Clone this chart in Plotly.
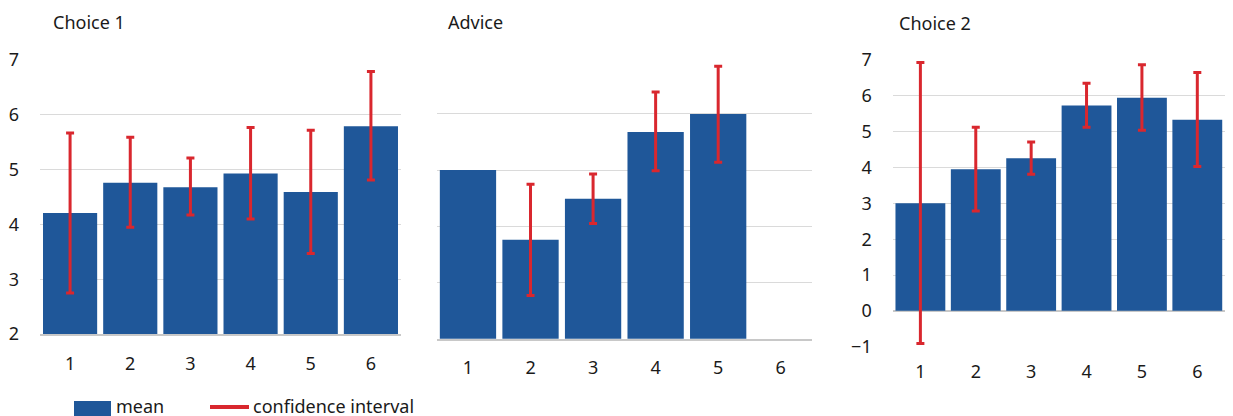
import plotly.graph_objects as go

# Categories shared by all three panels
categories = ["1", "2", "3", "4", "5", "6"]

# Choice 1: mean and confidence-interval bounds
choice1_mean = [4.21, 4.76, 4.68, 4.93, 4.59, 5.79]
choice1_low = [2.75, 3.95, 4.17, 4.10, 3.47, 4.81]
choice1_high = [5.67, 5.59, 5.21, 5.77, 5.72, 6.79]

# Advice: no interval for category 1, no data for category 6
advice_mean = [5.00, 3.76, 4.49, 5.68, 6.00, None]
advice_low = [None, 2.77, 4.05, 4.99, 5.14, None]
advice_high = [None, 4.75, 4.93, 6.39, 6.85, None]

# Choice 2
choice2_mean = [3.00, 3.95, 4.26, 5.73, 5.95, 5.33]
choice2_low = [-0.91, 2.79, 3.81, 5.12, 5.04, 4.03]
choice2_high = [6.93, 5.12, 4.71, 6.35, 6.87, 6.65]

panel_titles = ["Choice 1", "Advice", "Choice 2"]
legend_labels = ["mean", "confidence interval"]

BLUE = "#1f5799"
RED = "#d9272e"
GRID = "#dadada"
TEXT = "#1a1a1a"
FONT = "Noto Sans"
W, H = 1233, 416


def px_x(v):
    return v / W


def px_y(v):
    return 1 - v / H


fig = go.Figure()

panels = [
    (choice1_mean, choice1_low, choice1_high, "x", "y"),
    (advice_mean, advice_low, advice_high, "x2", "y2"),
    (choice2_mean, choice2_low, choice2_high, "x3", "y3"),
]

for mean, low, high, xa, ya in panels:
    fig.add_trace(go.Bar(
        x=categories, y=mean, xaxis=xa, yaxis=ya,
        marker=dict(color=BLUE, line=dict(width=0)),
        showlegend=False, hoverinfo="skip",
    ))
    # Confidence intervals only where both bounds exist
    cx, cy, up, down = [], [], [], []
    for c, m, lo, hi in zip(categories, mean, low, high):
        if m is None or lo is None or hi is None:
            continue
        cx.append(c)
        cy.append(m)
        up.append(hi - m)
        down.append(m - lo)
    fig.add_trace(go.Scatter(
        x=cx, y=cy, xaxis=xa, yaxis=ya, mode="markers",
        marker=dict(size=1, opacity=0),
        error_y=dict(type="data", symmetric=False, array=up, arrayminus=down,
                     color=RED, thickness=3, width=4),
        showlegend=False, hoverinfo="skip",
    ))

axis_common = dict(
    showgrid=False, zeroline=False, ticks="", showline=False, automargin=False,
    tickfont=dict(family=FONT, size=18, color=TEXT),
    type="category", range=[-0.5, 5.5],
)
yaxis_common = dict(
    showgrid=True, gridcolor=GRID, gridwidth=1.3, ticks="", automargin=False,
    tickfont=dict(family=FONT, size=18, color=TEXT), dtick=1,
)

fig.update_layout(
    width=W, height=H,
    margin=dict(l=0, r=0, t=0, b=0, autoexpand=False),
    paper_bgcolor="white", plot_bgcolor="white",
    bargap=0.1,
    xaxis=dict(axis_common, domain=[px_x(40), px_x(401)], anchor="y",
               showline=True, linecolor="#c8c8c8", linewidth=2, ticklabelstandoff=12),
    yaxis=dict(yaxis_common, domain=[px_y(334), px_y(60)], range=[2, 7],
               anchor="x", zeroline=False, ticklabelstandoff=20),
    xaxis2=dict(axis_common, domain=[px_x(436.7), px_x(812)], anchor="y2",
                showline=True, linecolor="#c8c8c8", linewidth=2, ticklabelstandoff=12),
    yaxis2=dict(yaxis_common, domain=[px_y(338.7), px_y(57.7)], range=[2, 7],
                anchor="x2", zeroline=False, showticklabels=False),
    xaxis3=dict(axis_common, domain=[px_x(892.7), px_x(1225)], anchor="y3",
                ticklabelstandoff=12),
    yaxis3=dict(yaxis_common, domain=[px_y(346.7), px_y(60)], range=[-1, 7],
                anchor="x3", zeroline=True, zerolinecolor="#c8c8c8", zerolinewidth=2,
                ticklabelstandoff=20),
)

# Panel titles
for title, xpos, ypos in zip(panel_titles, [51, 445.7, 897], [22, 22, 23]):
    fig.add_annotation(
        text=title, xref="paper", yref="paper",
        x=px_x(xpos), y=px_y(ypos), xanchor="left", yanchor="middle",
        showarrow=False, font=dict(family=FONT, size=18, color=TEXT),
    )

# Legend drawn below the panels
fig.add_shape(type="rect", xref="paper", yref="paper",
              x0=px_x(74), x1=px_x(111), y0=px_y(417), y1=px_y(401),
              fillcolor=BLUE, line=dict(width=0))
fig.add_shape(type="line", xref="paper", yref="paper",
              x0=px_x(210), x1=px_x(249), y0=px_y(407), y1=px_y(407),
              line=dict(color=RED, width=4))
for label, xpos in zip(legend_labels, [114, 251]):
    fig.add_annotation(
        text=label, xref="paper", yref="paper",
        x=px_x(xpos), y=px_y(406), xanchor="left", yanchor="middle",
        showarrow=False, font=dict(family=FONT, size=18, color=TEXT),
    )

fig.write_html("out.html")
